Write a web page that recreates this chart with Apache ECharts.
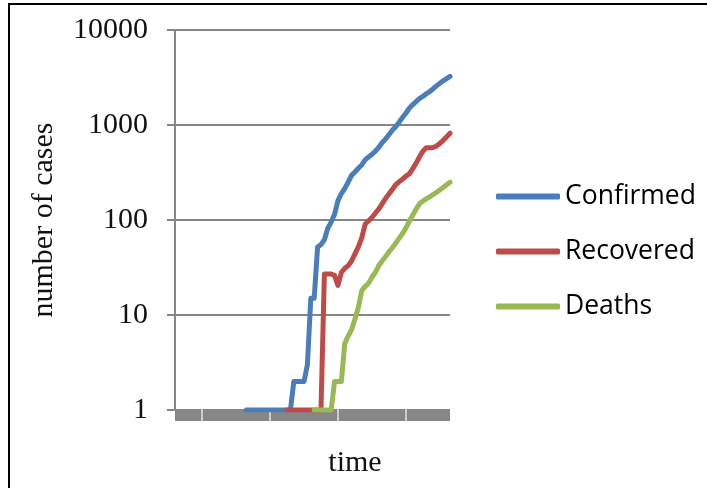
<!DOCTYPE html>
<html>
<head>
<meta charset="utf-8">
<script src="https://cdn.jsdelivr.net/npm/echarts@6/dist/echarts.min.js"></script>
<style>
html,body{margin:0;padding:0;background:#fff;}
#chart{width:707px;height:488px;}
</style>
</head>
<body>
<div id="chart"></div>
<script>
const categories = ['1','2','3','4','5','6','7','8','9','10','11','12','13','14','15','16','17','18','19','20',
  '21','22','23','24','25','26','27','28','29','30','31','32','33','34','35','36','37','38','39','40',
  '41','42','43','44','45','46','47','48','49','50','51','52','53','54','55','56','57','58','59','60',
  '61','62','63','64','65','66','67','68','69','70','71','72','73','74','75','76','77','78','79','80',
  '81','82'];

const confirmed = [null,null,null,null,null,null,null,null,null,null,null,null,null,null,null,null,null,null,null,null,null,
  1,1,1,1,1,1,1,1,1,1,1,1,1,1,
  2,2,2,2,
  3,15,15,52,55,62,82,95,115,160,190,215,250,295,320,350,380,430,460,490,530,580,650,710,790,880,960,1070,1200,1330,1500,1630,1760,1900,2000,2130,2240,2400,2580,2750,2920,3080,3250];

const recovered = [null,null,null,null,null,null,null,null,null,null,null,null,null,null,null,null,null,null,null,null,null,null,null,null,null,null,null,null,null,null,null,null,null,
  1,1,1,1,1,1,1,1,1,1,1,
  27,27,27,26,20.5,28,31,33,37,44,52,65,90,98,106,118,130,148,168,188,210,235,252,268,290,305,345,395,460,530,575,575,580,600,640,690,750,820];

const deaths = [null,null,null,null,null,null,null,null,null,null,null,null,null,null,null,null,null,null,null,null,null,null,null,null,null,null,null,null,null,null,null,null,null,null,null,null,null,null,null,null,null,
  1,1,1,1,1,1,
  2,2,2,
  5,6,7,9,12,18,20,21.5,25,28,33,37,41,46,51,57,64,72,82,97,112,130,148,158,167,175,185,195,207,220,235,250];

const seriesNames = ['Confirmed','Recovered','Deaths'];
const seriesColors = ['#4a7ebb','#be4b48','#98b954'];
const yMin = 1, yMax = 10000;
const tickFirst = 8, tickEvery = 20;

const chart = echarts.init(document.getElementById('chart'), null, {renderer:'canvas'});
const serif = 'Liberation Serif';
const tickFn = function(idx){ return idx >= tickFirst && (idx - tickFirst) % tickEvery === 0; };

const option = {
  animation: false,
  backgroundColor: '#fff',
  grid: { left: 175, right: 257, top: 30, bottom: 78 },
  graphic: [{
    type: 'rect', shape: { x: 9, y: 4, width: 740, height: 520 },
    style: { fill: null, stroke: '#000', lineWidth: 2 }, silent: true, z: 100
  }],
  legend: {
    orient: 'vertical', left: 496, top: 183, padding: 0,
    itemWidth: 64, itemHeight: 6, itemGap: 28,
    icon: 'roundRect',
    textStyle: { fontFamily: 'Open Sans', fontSize: 26.5, color: '#000' },
    data: seriesNames
  },
  xAxis: [{
    type: 'category', data: categories, boundaryGap: false, offset: 5,
    axisLine: { show: true, lineStyle: { color: '#878787', width: 12, cap: 'butt' } },
    axisTick: { show: true, inside: false, length: 6, interval: tickFn, lineStyle: { color: '#e6e6e6', width: 1.5 } },
    axisLabel: { show: false },
    splitLine: { show: false },
    name: 'time', nameLocation: 'middle', nameGap: 33,
    nameTextStyle: { fontFamily: serif, fontSize: 30, color: '#111', padding: [0, 0, 0, 85] }
  }, {
    type: 'category', data: categories, boundaryGap: false, offset: 5, position: 'bottom',
    axisLine: { show: false },
    axisTick: { show: true, inside: true, length: 6, interval: tickFn, lineStyle: { color: '#e6e6e6', width: 1.5 } },
    axisLabel: { show: false },
    splitLine: { show: false }
  }],
  yAxis: {
    type: 'log', logBase: 10, min: yMin, max: yMax,
    axisLine: { show: true, lineStyle: { color: '#868686', width: 2, cap: 'butt' } },
    axisTick: { show: true, inside: false, length: 8, lineStyle: { color: '#868686', width: 2 } },
    axisLabel: { margin: 27, fontFamily: serif, fontSize: 30, color: '#111',
      formatter: function(v){ return String(Math.round(v)); } },
    splitLine: { show: true, lineStyle: { color: '#868686', width: 2 } },
    minorTick: { show: false },
    name: 'number of cases', nameLocation: 'middle', nameRotate: 90, nameGap: 116,
    nameTextStyle: { fontFamily: serif, fontSize: 30, color: '#111' }
  },
  series: [
    { name: seriesNames[0], type: 'line', data: confirmed },
    { name: seriesNames[1], type: 'line', data: recovered },
    { name: seriesNames[2], type: 'line', data: deaths }
  ].map(function(s, k){
    return Object.assign(s, {
      xAxisIndex: 0, showSymbol: false, symbol: 'none', connectNulls: false,
      color: seriesColors[k],
      lineStyle: { color: seriesColors[k], width: 5, cap: 'round', join: 'round' },
      emphasis: { disabled: true }
    });
  })
};
chart.setOption(option);
</script>
</body>
</html>
